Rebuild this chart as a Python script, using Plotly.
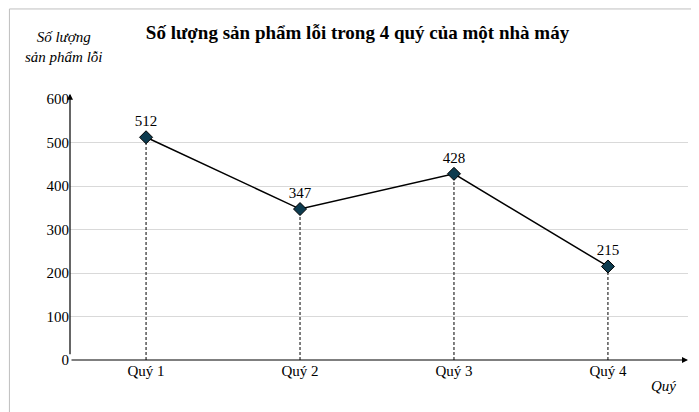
import plotly.graph_objects as go

categories = ["Quý 1", "Quý 2", "Quý 3", "Quý 4"]
values = [512, 347, 428, 215]
y_ticks = [0, 100, 200, 300, 400, 500, 600]

F = "Liberation Serif, Times New Roman, serif"
xs = list(range(len(categories)))
fig = go.Figure()
for x, v in zip(xs, values):
    fig.add_trace(go.Scatter(x=[x, x], y=[0, v], mode="lines",
                             line=dict(color="black", width=1, dash="3px,2px"),
                             showlegend=False, hoverinfo="skip"))
fig.add_trace(go.Scatter(x=xs, y=values, mode="lines+markers+text",
                         text=[str(v) for v in values], textposition="top center",
                         textfont=dict(family=F, size=15, color="black"),
                         line=dict(color="black", width=1.5),
                         marker=dict(symbol="diamond", size=10, color="#0d3b4f",
                                     line=dict(color="black", width=1)),
                         showlegend=False))

fig.update_layout(
    width=699, height=412, margin=dict(l=62, r=19, t=91, b=60, autoexpand=False),
    paper_bgcolor="white", plot_bgcolor="white",
    font=dict(family=F, size=15, color="black"),
    title=dict(text="<b>Số lượng sản phẩm lỗi trong 4 quý của một nhà máy</b>",
               x=0.5, xanchor="center", y=0.94, yanchor="middle", font=dict(size=19)),
    xaxis=dict(range=[-0.494, 3.52], tickvals=xs, ticktext=categories, automargin=False,
               showgrid=False, zeroline=False, showline=False, ticks="",
               tickfont=dict(size=15)),
    yaxis=dict(range=[0, 600], tickvals=y_ticks, showgrid=True, gridcolor="#d9d9d9",
               automargin=False, zeroline=False, showline=False, ticks="",
               tickfont=dict(size=15)),
    shapes=[
        dict(type="rect", xref="paper", yref="paper", x0=-0.098, x1=1.029, y0=-0.222, y1=1.345,
             line=dict(color="#bfbfbf", width=1)),
    ],
    annotations=[
        dict(xref="paper", yref="paper", x=0, y=1.02, ax=0, ay=262, axref="pixel", ayref="pixel",
             showarrow=True, arrowhead=2, arrowsize=1, arrowwidth=1.2, arrowcolor="black", text=""),
        dict(xref="paper", yref="paper", x=1.0, y=0, ax=-618, ay=0,
             showarrow=True, arrowhead=2, arrowsize=1, arrowwidth=1.2, arrowcolor="black", text=""),
        dict(xref="paper", yref="paper", x=-0.01, y=1.2, xanchor="center", yanchor="middle",
             text="<i>Số lượng<br>sản phẩm lỗi</i>", showarrow=False, align="center",
             font=dict(size=15)),
        dict(xref="paper", yref="paper", x=0.96, y=-0.1, xanchor="center", yanchor="middle",
             text="<i>Quý</i>", showarrow=False, font=dict(size=15)),
    ],
)
fig.write_html("out.html")
